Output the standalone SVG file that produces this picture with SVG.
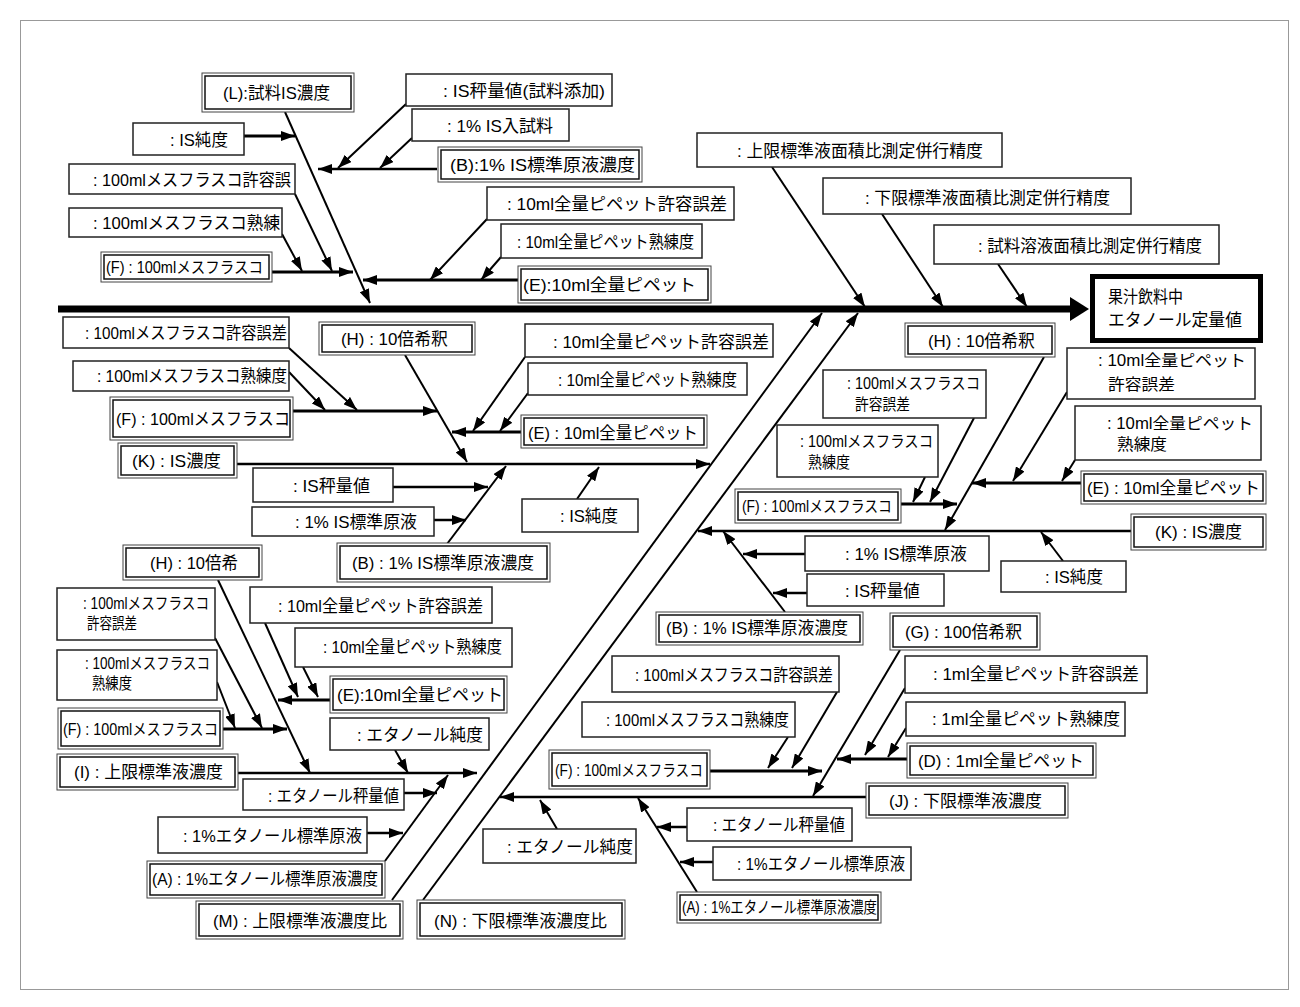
<svg xmlns="http://www.w3.org/2000/svg" width="1300" height="1007" viewBox="0 0 1300 1007">
<style>
.s{fill:#fff;stroke:#222;stroke-width:1.5}
.do{fill:#fff;stroke:#444;stroke-width:1}
.di{fill:none;stroke:#111;stroke-width:1.5}
text{font-family:"Liberation Sans","Noto Sans CJK JP",sans-serif;font-size:17px;fill:#000}
.sm{font-size:16px}
#conn line{stroke:#000;stroke-width:2;marker-end:url(#a)}
#conn line.t3{stroke-width:3}
#conn line.t2{stroke-width:2.5}
</style>
<defs>
<marker id="a" markerUnits="userSpaceOnUse" markerWidth="14" markerHeight="10" refX="14" refY="5" orient="auto"><path d="M0,0L14,5L0,10z" fill="#000"/></marker>
</defs>
<rect x="0" y="0" width="1300" height="1007" fill="#fff"/>
<rect x="20.5" y="20.5" width="1268" height="969" fill="none" stroke="#999" stroke-width="1"/>

<g id="conn">
<line x1="58" y1="309" x2="1072" y2="309" style="stroke-width:7;marker-end:none"/>
<polygon points="1070,297 1089,309 1070,321" fill="#000"/>
<line x1="285" y1="112" x2="370" y2="303"/>
<line class="t3" x1="244" y1="136" x2="295" y2="136"/>
<line class="t2" x1="437" y1="169" x2="318" y2="169"/>
<line x1="406" y1="104" x2="338" y2="168"/>
<line x1="412" y1="138" x2="380" y2="168"/>
<line class="t3" x1="272" y1="272" x2="353" y2="272"/>
<line x1="295" y1="194" x2="332" y2="271"/>
<line x1="282" y1="234" x2="302" y2="271"/>
<line class="t3" x1="518" y1="280" x2="363" y2="280"/>
<line x1="487" y1="219" x2="430" y2="280"/>
<line x1="501" y1="257" x2="481" y2="280"/>
<line x1="772" y1="167" x2="865" y2="307"/>
<line x1="882" y1="214" x2="943" y2="307"/>
<line x1="998" y1="264" x2="1027" y2="307"/>
<line x1="392" y1="900" x2="822" y2="313"/>
<line x1="423" y1="900" x2="858" y2="313"/>
<line class="t2" x1="237" y1="464" x2="710" y2="464"/>
<line x1="405" y1="355" x2="467" y2="462"/>
<line class="t3" x1="293" y1="411" x2="437" y2="411"/>
<line x1="289" y1="348" x2="357" y2="410"/>
<line x1="289" y1="372" x2="325" y2="410"/>
<line class="t3" x1="521" y1="432" x2="452" y2="432"/>
<line x1="525" y1="357" x2="473" y2="431"/>
<line x1="528" y1="393" x2="500" y2="431"/>
<line x1="447" y1="544" x2="506" y2="466"/>
<line class="t2" x1="393" y1="487" x2="488" y2="487"/>
<line class="t2" x1="434" y1="520" x2="466" y2="520"/>
<line x1="577" y1="499" x2="599" y2="467"/>
<line class="t2" x1="1131" y1="531" x2="698" y2="531"/>
<line x1="1044" y1="357" x2="945" y2="530"/>
<line class="t3" x1="1081" y1="483" x2="972" y2="483"/>
<line x1="1067" y1="392" x2="1013" y2="481"/>
<line x1="1075" y1="460" x2="1062" y2="481"/>
<line class="t3" x1="901" y1="504" x2="957" y2="504"/>
<line x1="974" y1="418" x2="930" y2="502"/>
<line x1="925" y1="477" x2="913" y2="502"/>
<line x1="785" y1="612" x2="723" y2="531"/>
<line class="t2" x1="805" y1="554" x2="743" y2="554"/>
<line class="t2" x1="807" y1="593" x2="773" y2="593"/>
<line x1="1063" y1="561" x2="1041" y2="532"/>
<line class="t2" x1="238" y1="773" x2="477" y2="773"/>
<line x1="218" y1="580" x2="310" y2="773"/>
<line class="t3" x1="223" y1="729" x2="287" y2="729"/>
<line x1="215" y1="638" x2="262" y2="728"/>
<line x1="217" y1="682" x2="235" y2="728"/>
<line class="t3" x1="330" y1="700" x2="278" y2="700"/>
<line x1="265" y1="623" x2="298" y2="697"/>
<line x1="303" y1="667" x2="318" y2="697"/>
<line x1="395" y1="750" x2="408" y2="773"/>
<line x1="385" y1="861" x2="448" y2="775"/>
<line class="t2" x1="404" y1="793" x2="437" y2="793"/>
<line class="t2" x1="367" y1="833" x2="403" y2="833"/>
<line class="t2" x1="866" y1="797" x2="500" y2="797"/>
<line x1="900" y1="650" x2="813" y2="796"/>
<line class="t3" x1="907" y1="759" x2="837" y2="759"/>
<line x1="905" y1="688" x2="865" y2="755"/>
<line x1="906" y1="728" x2="888" y2="757"/>
<line class="t3" x1="710" y1="771" x2="822" y2="771"/>
<line x1="837" y1="692" x2="792" y2="768"/>
<line x1="788" y1="737" x2="768" y2="768"/>
<line x1="557" y1="829" x2="540" y2="800"/>
<line x1="697" y1="892" x2="638" y2="798"/>
<line class="t2" x1="687" y1="827" x2="657" y2="827"/>
<line class="t2" x1="713" y1="862" x2="680" y2="862"/>
</g>

<g id="n1"><rect class="do" x="202" y="73" width="152" height="39"/><rect class="di" x="205" y="76" width="146" height="33"/><text x="223" y="99" textLength="107" lengthAdjust="spacingAndGlyphs">(L):試料IS濃度</text></g>
<g id="n2"><rect class="s" x="133" y="123" width="111" height="32"/><text x="170" y="146" textLength="58" lengthAdjust="spacingAndGlyphs">: IS純度</text></g>
<g id="n3"><rect class="s" x="69" y="164" width="226" height="30"/><text x="93" y="186" textLength="198" lengthAdjust="spacingAndGlyphs">: 100mlメスフラスコ許容誤</text></g>
<g id="n4"><rect class="s" x="69" y="208" width="213" height="29"/><text x="93" y="229" textLength="187" lengthAdjust="spacingAndGlyphs">: 100mlメスフラスコ熟練</text></g>
<g id="n5"><rect class="do" x="101" y="252" width="171" height="30"/><rect class="di" x="104" y="255" width="165" height="24"/><text class="sm" x="106" y="273" textLength="157" lengthAdjust="spacingAndGlyphs">(F) : 100mlメスフラスコ</text></g>
<g id="n6"><rect class="s" x="406" y="74" width="206" height="32"/><text x="443" y="97" textLength="162" lengthAdjust="spacingAndGlyphs">: IS秤量値(試料添加)</text></g>
<g id="n7"><rect class="s" x="412" y="109" width="157" height="32"/><text x="447" y="132" textLength="106" lengthAdjust="spacingAndGlyphs">: 1% IS入試料</text></g>
<g id="n8"><rect class="do" x="438" y="147" width="204" height="35"/><rect class="di" x="441" y="150" width="198" height="29"/><text x="450" y="171" textLength="185" lengthAdjust="spacingAndGlyphs">(B):1% IS標準原液濃度</text></g>
<g id="n9"><rect class="s" x="487" y="187" width="247" height="33"/><text x="507" y="210" textLength="220" lengthAdjust="spacingAndGlyphs">: 10ml全量ピペット許容誤差</text></g>
<g id="n10"><rect class="s" x="501" y="224" width="201" height="34"/><text x="517" y="248" textLength="177" lengthAdjust="spacingAndGlyphs">: 10ml全量ピペット熟練度</text></g>
<g id="n11"><rect class="do" x="518" y="266" width="193" height="37"/><rect class="di" x="521" y="269" width="187" height="31"/><text x="523" y="291" textLength="173" lengthAdjust="spacingAndGlyphs">(E):10ml全量ピペット</text></g>
<g id="n12"><rect class="s" x="697" y="133" width="305" height="34"/><text x="737" y="157" textLength="246" lengthAdjust="spacingAndGlyphs">: 上限標準液面積比測定併行精度</text></g>
<g id="n13"><rect class="s" x="823" y="178" width="308" height="36"/><text x="865" y="204" textLength="245" lengthAdjust="spacingAndGlyphs">: 下限標準液面積比測定併行精度</text></g>
<g id="n14"><rect class="s" x="934" y="225" width="285" height="39"/><text x="978" y="252" textLength="224" lengthAdjust="spacingAndGlyphs">: 試料溶液面積比測定併行精度</text></g>
<g id="head"><rect x="1092.5" y="276.5" width="168" height="64" fill="#fff" stroke="#000" stroke-width="5"/><text x="1108" y="303" textLength="75" lengthAdjust="spacingAndGlyphs">果汁飲料中</text><text x="1108" y="326" textLength="134" lengthAdjust="spacingAndGlyphs">エタノール定量値</text></g>

<g id="n16"><rect class="s" x="63" y="317" width="226" height="31"/><text x="85" y="339" textLength="202" lengthAdjust="spacingAndGlyphs">: 100mlメスフラスコ許容誤差</text></g>
<g id="n17"><rect class="s" x="73" y="361" width="216" height="30"/><text x="97" y="382" textLength="190" lengthAdjust="spacingAndGlyphs">: 100mlメスフラスコ熟練度</text></g>
<g id="n18"><rect class="do" x="110" y="397" width="183" height="43"/><rect class="di" x="113" y="400" width="177" height="37"/><text x="116" y="425" textLength="174" lengthAdjust="spacingAndGlyphs">(F) : 100mlメスフラスコ</text></g>
<g id="n19"><rect class="do" x="118" y="443" width="119" height="35"/><rect class="di" x="121" y="446" width="113" height="29"/><text x="132" y="467" textLength="89" lengthAdjust="spacingAndGlyphs">(K) : IS濃度</text></g>
<g id="n20"><rect class="do" x="319" y="322" width="156" height="33"/><rect class="di" x="322" y="325" width="150" height="27"/><text x="341" y="345" textLength="107" lengthAdjust="spacingAndGlyphs">(H) : 10倍希釈</text></g>
<g id="n21"><rect class="s" x="525" y="324" width="248" height="33"/><text x="553" y="348" textLength="216" lengthAdjust="spacingAndGlyphs">: 10ml全量ピペット許容誤差</text></g>
<g id="n22"><rect class="s" x="528" y="363" width="219" height="32"/><text x="558" y="386" textLength="179" lengthAdjust="spacingAndGlyphs">: 10ml全量ピペット熟練度</text></g>
<g id="n23"><rect class="do" x="521" y="415" width="186" height="33"/><rect class="di" x="524" y="418" width="180" height="27"/><text x="528" y="439" textLength="170" lengthAdjust="spacingAndGlyphs">(E) : 10ml全量ピペット</text></g>
<g id="n24"><rect class="s" x="253" y="468" width="140" height="34"/><text x="293" y="492" textLength="77" lengthAdjust="spacingAndGlyphs">: IS秤量値</text></g>
<g id="n25"><rect class="s" x="252" y="507" width="182" height="29"/><text x="295" y="528" textLength="122" lengthAdjust="spacingAndGlyphs">: 1% IS標準原液</text></g>
<g id="n26"><rect class="do" x="337" y="543" width="213" height="39"/><rect class="di" x="340" y="546" width="207" height="33"/><text x="352" y="569" textLength="182" lengthAdjust="spacingAndGlyphs">(B) : 1% IS標準原液濃度</text></g>
<g id="n27"><rect class="s" x="522" y="499" width="116" height="33"/><text x="560" y="522" textLength="58" lengthAdjust="spacingAndGlyphs">: IS純度</text></g>

<g id="n28"><rect class="do" x="905" y="323" width="150" height="34"/><rect class="di" x="908" y="326" width="144" height="28"/><text x="928" y="347" textLength="107" lengthAdjust="spacingAndGlyphs">(H) : 10倍希釈</text></g>
<g id="n29"><rect class="s" x="1067" y="348" width="188" height="51"/><text class="sm" x="1098" y="366" textLength="148" lengthAdjust="spacingAndGlyphs">: 10ml全量ピペット</text><text class="sm" x="1108" y="390" textLength="67" lengthAdjust="spacingAndGlyphs">許容誤差</text></g>
<g id="n30"><rect class="s" x="1075" y="406" width="186" height="54"/><text class="sm" x="1107" y="429" textLength="146" lengthAdjust="spacingAndGlyphs">: 10ml全量ピペット</text><text class="sm" x="1117" y="450" textLength="50" lengthAdjust="spacingAndGlyphs">熟練度</text></g>
<g id="n31"><rect class="do" x="1081" y="471" width="185" height="33"/><rect class="di" x="1084" y="474" width="179" height="27"/><text x="1087" y="494" textLength="173" lengthAdjust="spacingAndGlyphs">(E) : 10ml全量ピペット</text></g>
<g id="n32"><rect class="do" x="1131" y="514" width="135" height="36"/><rect class="di" x="1134" y="517" width="129" height="30"/><text x="1155" y="538" textLength="87" lengthAdjust="spacingAndGlyphs">(K) : IS濃度</text></g>
<g id="n33"><rect class="s" x="1001" y="561" width="125" height="31"/><text x="1045" y="583" textLength="58" lengthAdjust="spacingAndGlyphs">: IS純度</text></g>
<g id="n34"><rect class="s" x="823" y="370" width="163" height="48"/><text class="sm" x="847" y="389" textLength="133" lengthAdjust="spacingAndGlyphs">: 100mlメスフラスコ</text><text class="sm" x="855" y="410" textLength="55" lengthAdjust="spacingAndGlyphs">許容誤差</text></g>
<g id="n35"><rect class="s" x="777" y="425" width="161" height="52"/><text class="sm" x="800" y="447" textLength="133" lengthAdjust="spacingAndGlyphs">: 100mlメスフラスコ</text><text class="sm" x="808" y="468" textLength="42" lengthAdjust="spacingAndGlyphs">熟練度</text></g>
<g id="n36"><rect class="do" x="735" y="489" width="166" height="34"/><rect class="di" x="738" y="492" width="160" height="28"/><text class="sm" x="742" y="512" textLength="150" lengthAdjust="spacingAndGlyphs">(F) : 100mlメスフラスコ</text></g>
<g id="n37"><rect class="s" x="805" y="536" width="184" height="35"/><text x="845" y="560" textLength="122" lengthAdjust="spacingAndGlyphs">: 1% IS標準原液</text></g>
<g id="n38"><rect class="s" x="807" y="574" width="137" height="32"/><text x="845" y="597" textLength="75" lengthAdjust="spacingAndGlyphs">: IS秤量値</text></g>
<g id="n39"><rect class="do" x="656" y="612" width="207" height="33"/><rect class="di" x="659" y="615" width="201" height="27"/><text x="666" y="634" textLength="182" lengthAdjust="spacingAndGlyphs">(B) : 1% IS標準原液濃度</text></g>

<g id="n40"><rect class="do" x="123" y="545" width="139" height="35"/><rect class="di" x="126" y="548" width="133" height="29"/><text x="150" y="569" textLength="88" lengthAdjust="spacingAndGlyphs">(H) : 10倍希</text></g>
<g id="n41"><rect class="s" x="57" y="588" width="158" height="52"/><text class="sm" x="83" y="609" textLength="126" lengthAdjust="spacingAndGlyphs">: 100mlメスフラスコ</text><text class="sm" x="87" y="629" textLength="50" lengthAdjust="spacingAndGlyphs">許容誤差</text></g>
<g id="n42"><rect class="s" x="57" y="650" width="160" height="50"/><text class="sm" x="85" y="669" textLength="125" lengthAdjust="spacingAndGlyphs">: 100mlメスフラスコ</text><text class="sm" x="92" y="689" textLength="40" lengthAdjust="spacingAndGlyphs">熟練度</text></g>
<g id="n43"><rect class="do" x="58" y="708" width="165" height="41"/><rect class="di" x="61" y="711" width="159" height="35"/><text class="sm" x="63" y="735" textLength="155" lengthAdjust="spacingAndGlyphs">(F) : 100mlメスフラスコ</text></g>
<g id="n44"><rect class="s" x="250" y="587" width="242" height="36"/><text x="278" y="612" textLength="205" lengthAdjust="spacingAndGlyphs">: 10ml全量ピペット許容誤差</text></g>
<g id="n45"><rect class="s" x="295" y="628" width="217" height="39"/><text x="323" y="653" textLength="179" lengthAdjust="spacingAndGlyphs">: 10ml全量ピペット熟練度</text></g>
<g id="n46"><rect class="do" x="330" y="676" width="177" height="37"/><rect class="di" x="333" y="679" width="171" height="31"/><text x="337" y="701" textLength="166" lengthAdjust="spacingAndGlyphs">(E):10ml全量ピペット</text></g>
<g id="n47"><rect class="s" x="330" y="718" width="159" height="32"/><text x="357" y="741" textLength="126" lengthAdjust="spacingAndGlyphs">: エタノール純度</text></g>
<g id="n48"><rect class="do" x="57" y="754" width="181" height="36"/><rect class="di" x="60" y="757" width="175" height="30"/><text x="74" y="778" textLength="149" lengthAdjust="spacingAndGlyphs">(I) : 上限標準液濃度</text></g>
<g id="n49"><rect class="s" x="243" y="779" width="161" height="31"/><text x="268" y="802" textLength="131" lengthAdjust="spacingAndGlyphs">: エタノール秤量値</text></g>
<g id="n50"><rect class="s" x="158" y="817" width="209" height="36"/><text x="183" y="842" textLength="179" lengthAdjust="spacingAndGlyphs">: 1%エタノール標準原液</text></g>
<g id="n51"><rect class="do" x="147" y="861" width="238" height="37"/><rect class="di" x="150" y="864" width="232" height="31"/><text x="152" y="885" textLength="226" lengthAdjust="spacingAndGlyphs">(A) : 1%エタノール標準原液濃度</text></g>
<g id="n52"><rect class="do" x="196" y="901" width="207" height="38"/><rect class="di" x="199" y="904" width="201" height="32"/><text x="213" y="927" textLength="174" lengthAdjust="spacingAndGlyphs">(M) : 上限標準液濃度比</text></g>
<g id="n53"><rect class="do" x="417" y="900" width="208" height="39"/><rect class="di" x="420" y="903" width="202" height="33"/><text x="434" y="927" textLength="173" lengthAdjust="spacingAndGlyphs">(N) : 下限標準液濃度比</text></g>

<g id="n54"><rect class="do" x="890" y="613" width="150" height="37"/><rect class="di" x="893" y="616" width="144" height="31"/><text x="905" y="638" textLength="117" lengthAdjust="spacingAndGlyphs">(G) : 100倍希釈</text></g>
<g id="n55"><rect class="s" x="905" y="656" width="242" height="37"/><text x="933" y="680" textLength="206" lengthAdjust="spacingAndGlyphs">: 1ml全量ピペット許容誤差</text></g>
<g id="n56"><rect class="s" x="906" y="702" width="219" height="34"/><text x="932" y="725" textLength="188" lengthAdjust="spacingAndGlyphs">: 1ml全量ピペット熟練度</text></g>
<g id="n57"><rect class="do" x="907" y="743" width="189" height="35"/><rect class="di" x="910" y="746" width="183" height="29"/><text x="918" y="767" textLength="166" lengthAdjust="spacingAndGlyphs">(D) : 1ml全量ピペット</text></g>
<g id="n58"><rect class="do" x="866" y="783" width="202" height="35"/><rect class="di" x="869" y="786" width="196" height="29"/><text x="889" y="807" textLength="153" lengthAdjust="spacingAndGlyphs">(J) : 下限標準液濃度</text></g>
<g id="n59"><rect class="s" x="612" y="656" width="227" height="36"/><text x="635" y="681" textLength="198" lengthAdjust="spacingAndGlyphs">: 100mlメスフラスコ許容誤差</text></g>
<g id="n60"><rect class="s" x="582" y="702" width="213" height="35"/><text x="606" y="726" textLength="183" lengthAdjust="spacingAndGlyphs">: 100mlメスフラスコ熟練度</text></g>
<g id="n61"><rect class="do" x="549" y="750" width="161" height="39"/><rect class="di" x="552" y="753" width="155" height="33"/><text class="sm" x="555" y="776" textLength="148" lengthAdjust="spacingAndGlyphs">(F) : 100mlメスフラスコ</text></g>
<g id="n62"><rect class="s" x="483" y="829" width="153" height="34"/><text x="507" y="853" textLength="126" lengthAdjust="spacingAndGlyphs">: エタノール純度</text></g>
<g id="n63"><rect class="s" x="687" y="808" width="165" height="33"/><text x="713" y="831" textLength="132" lengthAdjust="spacingAndGlyphs">: エタノール秤量値</text></g>
<g id="n64"><rect class="s" x="713" y="847" width="198" height="33"/><text x="737" y="870" textLength="168" lengthAdjust="spacingAndGlyphs">: 1%エタノール標準原液</text></g>
<g id="n65"><rect class="do" x="677" y="892" width="204" height="31"/><rect class="di" x="680" y="895" width="198" height="25"/><text class="sm" x="682" y="913" textLength="195" lengthAdjust="spacingAndGlyphs">(A) : 1%エタノール標準原液濃度</text></g>
</svg>
